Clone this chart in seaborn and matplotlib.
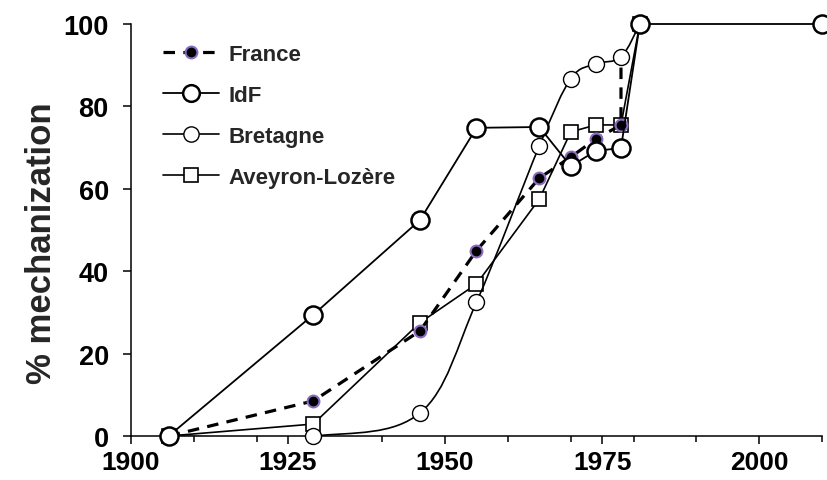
import numpy as np
import pandas as pd
import seaborn as sns
import matplotlib.pyplot as plt
from matplotlib.path import Path
from matplotlib.patches import PathPatch
from matplotlib.lines import Line2D
from matplotlib.ticker import MultipleLocator

# data
years_france = [1906, 1929, 1946, 1955, 1965, 1970, 1974, 1978, 1978]
france = [0, 8.5, 25.5, 45, 62.6, 67.7, 72.1, 75.5, 92]

years_idf = [1906, 1929, 1946, 1955, 1965, 1970, 1974, 1978, 1981, 2010]
idf = [0, 29.4, 52.4, 74.8, 75, 65.5, 69.2, 69.9, 100, 100]

years_bretagne = [1906, 1929, 1946, 1955, 1965, 1970, 1974, 1978, 1981]
bretagne = [0, 0, 5.6, 32.5, 70.4, 86.7, 90.3, 92, 100]

years_aveyron = [1906, 1929, 1946, 1955, 1965, 1970, 1974, 1978, 1981]
aveyron = [0, 2.9, 27.5, 36.9, 57.5, 73.8, 75.5, 75.5, 100]

labels = ["France", "IdF", "Bretagne", "Aveyron-Lozère"]

sns.set_theme(style="ticks")
plt.rcParams['font.family'] = ['Liberation Sans', 'DejaVu Sans']
plt.rcParams['font.weight'] = 'bold'
plt.rcParams['axes.labelweight'] = 'bold'

purple = '#8a6cbf'
dash = (0, (3.6, 2.6))

fig = plt.figure(figsize=(8.28, 4.81), dpi=100)
ax = fig.add_axes([131 / 828, 1 - 437 / 481, 691 / 828, 412 / 481])


def smooth_path(xs, ys):
    # Excel-like smoothed line: cubic bezier through the points
    pts = np.column_stack([xs, ys]).astype(float)
    n = len(pts)
    verts = [pts[0]]
    codes = [Path.MOVETO]
    for i in range(n - 1):
        p0 = pts[max(i - 1, 0)]
        p1, p2 = pts[i], pts[i + 1]
        p3 = pts[min(i + 2, n - 1)]
        verts += [p1 + (p2 - p0) / 6, p2 - (p3 - p1) / 6, p2]
        codes += [Path.CURVE4] * 3
    return Path(verts, codes)


# Aveyron-Lozère
df_av = pd.DataFrame({'year': years_aveyron, 'pct': aveyron})
sns.lineplot(data=df_av, x='year', y='pct', ax=ax, estimator=None, sort=False,
             color='black', lw=1.2, marker='s', ms=10, mfc='white', mec='black',
             mew=1.2, clip_on=False, zorder=3)

# France
df_fr = pd.DataFrame({'year': years_france, 'pct': france})
sns.lineplot(data=df_fr, x='year', y='pct', ax=ax, estimator=None, sort=False,
             color='black', lw=2.3, linestyle=dash, marker='o', ms=8.5,
             mfc='black', mec=purple, mew=1.5, clip_on=False, zorder=4)

# Bretagne (smoothed line)
ax.add_patch(PathPatch(smooth_path(years_bretagne, bretagne), fill=False,
                       edgecolor='black', lw=1.2, zorder=5))
df_br = pd.DataFrame({'year': years_bretagne, 'pct': bretagne})
sns.lineplot(data=df_br, x='year', y='pct', ax=ax, estimator=None, sort=False,
             linestyle='none', marker='o', ms=11.5, mfc='white', mec='black',
             mew=1.0, clip_on=False, zorder=5)

# IdF
df_idf = pd.DataFrame({'year': years_idf, 'pct': idf})
sns.lineplot(data=df_idf, x='year', y='pct', ax=ax, estimator=None, sort=False,
             color='black', lw=1.3, marker='o', ms=13, mfc='white', mec='black',
             mew=1.8, clip_on=False, zorder=6)

ax.set_xlim(1900, 2010)
ax.set_ylim(0, 100)
ax.xaxis.set_major_locator(MultipleLocator(25))
ax.xaxis.set_minor_locator(MultipleLocator(10))
ax.yaxis.set_major_locator(MultipleLocator(20))
ax.set_xlabel("")
ax.set_ylabel("% mechanization", fontsize=25)
ax.yaxis.set_label_coords(-0.105, 0.47)

ax.tick_params(axis='both', which='major', direction='out', length=6, width=1.1,
               labelsize=19, colors='black')
ax.tick_params(axis='x', which='major', pad=4)
ax.tick_params(axis='y', which='major', labelsize=19.5, pad=10)
ax.tick_params(axis='x', which='minor', direction='out', length=4, width=1.1,
               colors='black')
for s in ['left', 'bottom']:
    ax.spines[s].set_linewidth(1.1)
    ax.spines[s].set_color('black')
sns.despine(ax=ax)

handles = [
    Line2D([], [], color='black', lw=2.3, linestyle=dash, marker='o', ms=8.5,
           mfc='black', mec=purple, mew=1.5),
    Line2D([], [], color='black', lw=1.3, marker='o', ms=12, mfc='white',
           mec='black', mew=1.8),
    Line2D([], [], color='black', lw=1.2, marker='o', ms=11, mfc='white',
           mec='black', mew=1.0),
    Line2D([], [], color='black', lw=1.2, marker='s', ms=10, mfc='white',
           mec='black', mew=1.2),
]
fig.legend(handles, labels, loc='upper left', bbox_to_anchor=(163 / 828, 1 - 45 / 481),
           frameon=False, fontsize=16, handlelength=2.5, handletextpad=0.45,
           labelspacing=0.9, borderpad=0, borderaxespad=0)

fig.savefig("out.png", dpi=100)
